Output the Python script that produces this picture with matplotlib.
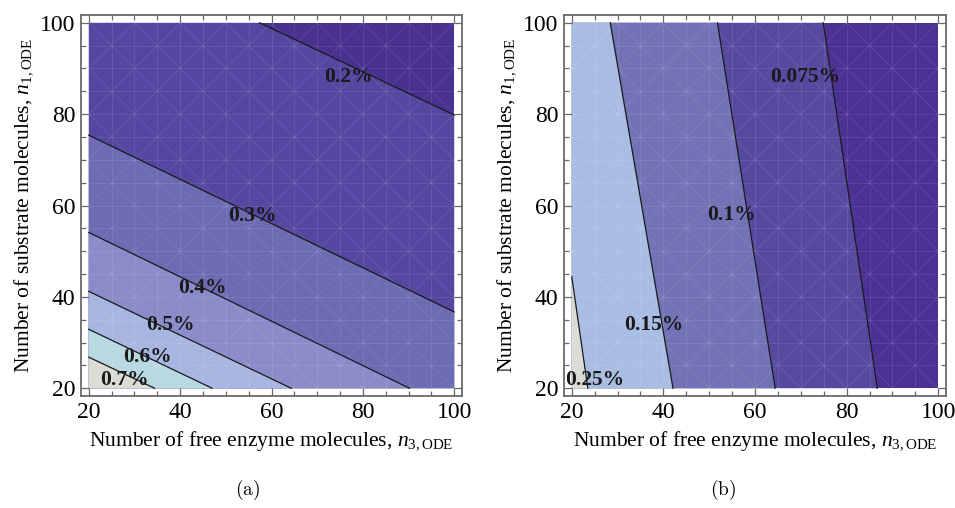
import numpy as np
import matplotlib
matplotlib.use("Agg")
import matplotlib.pyplot as plt
from matplotlib.patches import Rectangle, Polygon

plt.rcParams['font.family'] = ['Liberation Serif', 'DejaVu Serif']
plt.rcParams['mathtext.fontset'] = 'custom'
plt.rcParams['mathtext.rm'] = 'Liberation Serif'
plt.rcParams['mathtext.it'] = 'Liberation Serif:italic'

# contour lines: (x start, y start, x end, y end)
levels_a = ["0.2%", "0.3%", "0.4%", "0.5%", "0.6%", "0.7%"]
lines_a = [(57.4, 100, 100, 79.8),
           (20, 75.4, 100, 36.7),
           (20, 54.1, 90.2, 20),
           (20, 41.2, 64.3, 20),
           (20, 32.9, 47.0, 20),
           (20, 26.8, 34.4, 20)]
label_pos_a = [(76.8, 88.2), (55.9, 57.7), (44.8, 42.0),
               (37.9, 33.8), (32.8, 26.8), (27.7, 21.9)]
colors_a = ["#48318f", "#5546a0", "#6c6bb3", "#8a8bc9",
            "#a6b6e0", "#b8d8e2", "#dcdcd4"]

levels_b = ["0.075%", "0.1%", "0.15%", "0.25%"]
lines_b = [(74.9, 100, 86.7, 20),
           (51.8, 100, 64.4, 20),
           (28.4, 100, 42.1, 20),
           (20, 44.4, 23.5, 20)]
label_pos_b = [(70.9, 88.1), (54.8, 58.0), (37.9, 33.8), (25.0, 21.9)]
colors_b = ["#4b3194", "#5749a0", "#7272b6", "#a9bde3", "#dcdcd6"]

lo, hi = 20, 100
corners = [(lo, lo), (hi, lo), (hi, hi), (lo, hi)]
frame_col = "#6a6a6a"


def high_side(line, ref=(lo, lo)):
    x0, y0, x1, y1 = line
    s_ref = (x1 - x0) * (ref[1] - y0) - (y1 - y0) * (ref[0] - x0)
    pts = [(x0, y0), (x1, y1)]
    for cx, cy in corners:
        s = (x1 - x0) * (cy - y0) - (y1 - y0) * (cx - x0)
        if s * s_ref > 1e-9:
            pts.append((cx, cy))
    pts = np.array(pts, dtype=float)
    c = pts.mean(axis=0)
    ang = np.arctan2(pts[:, 1] - c[1], pts[:, 0] - c[0])
    return pts[np.argsort(ang)]


def panel(ax, levels, lines, label_pos, colors):
    clip = Rectangle((lo, lo), hi - lo, hi - lo, transform=ax.transData)
    ax.add_patch(Rectangle((lo, lo), hi - lo, hi - lo,
                           facecolor=colors[0], edgecolor='none'))
    for i, ln in enumerate(lines):
        poly = Polygon(high_side(ln), closed=True, facecolor=colors[i + 1],
                       edgecolor='none')
        ax.add_patch(poly)

    # faint mesh seams like the rendered original
    for v in np.arange(lo + 5, hi, 5):
        for seg in (ax.plot([v, v], [lo, hi]), ax.plot([lo, hi], [v, v])):
            seg[0].set(color='white', lw=0.5, alpha=0.13, clip_path=clip)
    for c in np.arange(-80, 81, 10):
        for seg in (ax.plot([lo, hi], [lo + c, hi + c]),
                    ax.plot([lo, hi], [hi + c, lo + c])):
            seg[0].set(color='white', lw=0.5, alpha=0.13, clip_path=clip)

    for ln in lines:
        ax.plot([ln[0], ln[2]], [ln[1], ln[3]], color='#1a1a1a', lw=0.9)
    for lab, (tx, ty) in zip(levels, label_pos):
        ax.text(tx, ty, lab, ha='center', va='center', fontsize=15.5,
                fontweight='bold', color='#1a1a1a')

    ax.set_xlim(18.3, 101.7)
    ax.set_ylim(18.3, 101.7)
    ax.set_xticks([20, 40, 60, 80, 100])
    ax.set_yticks([20, 40, 60, 80, 100])
    ax.set_xticks(np.arange(20, 101, 5), minor=True)
    ax.set_yticks(np.arange(20, 101, 5), minor=True)
    ax.tick_params(which='both', direction='in', top=True, right=True,
                   color=frame_col, labelsize=17, width=0.9)
    ax.tick_params(which='major', length=6, pad=4)
    ax.tick_params(which='minor', length=3.5)
    for sp in ax.spines.values():
        sp.set_color(frame_col)
        sp.set_linewidth(1.3)
    ax.set_xlabel(r"Number of free enzyme molecules, $n_{3,\mathrm{ODE}}$",
                  fontsize=15.5, labelpad=5)
    ax.set_ylabel(r"Number of substrate molecules, $n_{1,\mathrm{ODE}}$",
                  fontsize=15.5, labelpad=4)


fig = plt.figure(figsize=(9.55, 5.08), dpi=100)
ax1 = fig.add_axes([81 / 955, 112 / 508, 381 / 955, 381 / 508])
ax2 = fig.add_axes([564 / 955, 112 / 508, 382 / 955, 381 / 508])
panel(ax1, levels_a, lines_a, label_pos_a, colors_a)
panel(ax2, levels_b, lines_b, label_pos_b, colors_b)

fig.text(248 / 955, 18 / 508, r"$\mathrm{(a)}$", ha='center', va='center',
         fontsize=14, math_fontfamily='cm')
fig.text(723 / 955, 18 / 508, r"$\mathrm{(b)}$", ha='center', va='center',
         fontsize=14, math_fontfamily='cm')

fig.savefig("out.png", dpi=100)
